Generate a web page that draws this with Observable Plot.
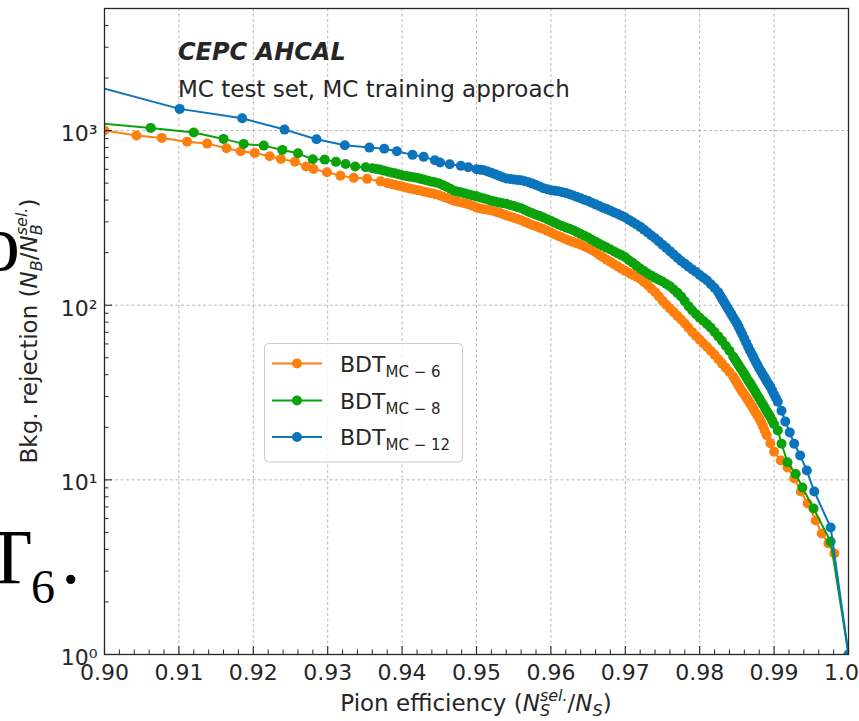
<!DOCTYPE html>
<html><head><meta charset="utf-8">
<script src="https://cdn.jsdelivr.net/npm/d3@7"></script>
<script src="https://cdn.jsdelivr.net/npm/@observablehq/plot@0.6"></script>
<style>
html,body{margin:0;padding:0;background:#fff;overflow:hidden;}
#chart{position:relative;width:859px;height:721px;}
</style></head><body><div id="chart"></div>
<script>
// ---- data (pion efficiency, background rejection) ----
const effMC6 = [0.9000,0.9043,0.9077,0.9111,0.9138,0.9164,0.9183,0.9202,0.9222,0.9237,0.9256,0.9271,0.9281,0.9299,0.9317,0.9335,0.9353,0.9371,
0.938,0.939,0.940,0.941,0.942,0.943,0.944,0.945,0.946,0.947,0.948,0.949,0.950,0.951,0.952,0.953,0.954,0.955,0.956,0.957,0.958,0.959,0.960,0.961,0.962,0.963,0.964,0.965,0.966,0.967,0.968,0.969,0.970,0.971,0.972,0.973,0.974,0.975,
0.9755,0.976,0.9765,0.977,0.9775,0.978,0.9785,0.979,0.9795,0.980,0.9805,0.981,0.9815,0.982,0.9825,0.983,0.9835,0.984,0.9845,0.985,0.9855,0.986,0.9865,0.987,0.9875,0.988,0.9885,0.989,0.9895,
0.9900,0.9909,0.9918,0.9927,0.9936,0.9945,0.9956,0.9964,0.9973,0.9981];
const rejMC6 = [1000,936,908,864,842,792,761,745,712,688,664,622,603,577,552,536,529,512,
501,489,478,466,457,447,437,426,411,396,387,377,363,354,349,339,327,317,307,294,283,273,261,249,239,230,222,213,201,188,177,166.5,157,149,141.9,130.4,118.9,106.2,
100.7,95.9,91.3,86.9,82.8,78.6,74.3,70.1,66.6,63.5,60.4,57.6,54.7,52.0,49.1,46.3,43.9,41.5,39.1,36.0,33.1,30.8,28.6,26.5,24.3,22.5,20.3,18.0,16.2,
14.5,12.9,11.76,10.17,8.58,7.32,5.85,4.93,4.32,3.79];
// additional densely packed working points read between the ones above
const effMC6Dense = [0.9385,0.9395,0.9405,0.9415,0.9425,0.9435,0.9445,0.9455,0.9465,0.9475,0.9485,0.9495,0.9505,0.9515,0.9525,0.9535,0.9545,0.9555,0.9565,0.9575,0.9585,0.9595,0.9605,0.9615,0.9625,0.9635,0.9645,0.9655,0.9665,0.9675,0.9685,0.9695,0.9705,0.9715,0.9725,0.9735,0.9745,
0.98475,0.98525,0.98575,0.98625,0.98675,0.98725,0.98775,0.98825,0.98875];
const rejMC6Dense = [495,483,472,461,452,442,432,418,403,391,382,370,358,352,344,333,322,312,300,288,278,267,255,244,234,226,217,207,194,182,171.7,161.7,153,145.4,136,124.5,112.4,
37.5,34.5,31.9,29.7,27.5,25.4,23.4,21.4,19.1];

const effMC8 = [0.8981,0.9062,0.9120,0.9160,0.9187,0.9214,0.9239,0.9260,0.9280,0.9296,0.9311,0.9324,0.9337,0.9351,
0.936,0.937,0.938,0.939,0.940,0.941,0.942,0.943,0.944,0.945,0.946,0.947,0.948,0.949,0.950,0.951,0.952,0.953,0.954,0.955,0.956,0.957,0.958,0.959,0.960,0.961,0.962,0.963,0.964,0.965,0.966,0.967,0.968,0.969,0.970,0.971,0.972,0.973,0.974,0.975,0.976,0.977,
0.9775,0.978,0.9785,0.979,0.9795,0.980,0.9805,0.981,0.9815,0.982,0.9825,0.983,0.9835,0.984,0.9845,0.985,0.9855,0.986,0.9865,0.987,0.9875,0.988,0.9885,0.989,0.9895,0.990,
0.9905,0.9910,0.9918,0.9929,0.9938,0.9953,0.9976,1.0];
const rejMC8 = [1110,1036,974,896,839,820,775,741,685,682,662,644,622,616,
609,598,583,569,555,545,536,523,510,498,475,453,442,431,420,409,397,388,381,370,359,343,330,318,304,290,279,269,256,244,231,219,208.5,198,188,175,162,152,143.4,136.6,128.4,117.7,
112.3,105.3,98.8,93.2,88.9,84.8,81.2,77.8,74.3,70.2,66.3,62.5,58.6,54.8,50.8,47.1,43.6,40.4,37.2,34.5,31.8,29.3,27.0,24.8,22.9,20.8,
19.2,16.1,12.6,10.8,9.04,6.85,4.43,1.0];
const effMC8Dense = [0.9365,0.9375,0.9385,0.9395,0.9405,0.9415,0.9425,0.9435,0.9445,0.9455,0.9465,0.9475,0.9485,0.9495,0.9505,0.9515,0.9525,0.9535,0.9545,0.9555,0.9565,0.9575,0.9585,0.9595,0.9605,0.9615,0.9625,0.9635,0.9645,0.9655,0.9665,0.9675,0.9685,0.9695,0.9705,0.9715,0.9725,0.9735,0.9745,0.9755,0.9765,
0.98475,0.98525,0.98575,0.98625,0.98675,0.98725,0.98775,0.98825,0.98875,0.98925,0.98975];
const rejMC8Dense = [603,590,576,562,550,540,529,516,504,487,464,447,436,425,414,403,392,384,375,364,351,336,324,311,297,284,274,262,250,237,225,213.7,203,193,181,168,157,147.6,140,132.4,123,
48.9,45.3,42.0,38.8,35.8,33.1,30.5,28.1,25.9,23.8,21.8];

const effMC12 = [0.8981,0.9101,0.9185,0.9242,0.9285,0.9323,0.9356,0.9376,0.9393,0.9414,0.9429,0.9444,0.9451,0.9464,0.9479,0.9489,0.9500,
0.951,0.952,0.953,0.954,0.955,0.956,0.957,0.958,0.959,0.960,0.961,0.962,0.963,0.964,0.965,0.966,0.967,0.968,0.969,0.970,0.971,0.972,0.973,0.974,0.975,
0.9755,0.976,0.9765,0.977,0.9775,0.978,0.9785,0.979,0.9795,0.980,0.9805,0.981,0.9815,0.982,0.9825,0.983,0.9835,0.984,0.9845,0.985,0.9855,0.986,0.9865,0.987,0.9875,0.988,0.9885,0.989,0.9895,0.990,0.9905,
0.9910,0.9915,0.9921,0.9927,0.9935,0.9944,0.9954,0.9976,1.0];
const rejMC12 = [1830,1331,1176,1013,892,824,799,786,761,726,707,676,656,641,628,617,600,
592,574,552,531,525,520,506,488,468,455,450,439,425,410,395,378,362,348,333,318,299,281,261,242,222,
213,204,195,187,179,173,166,160,155,149,143.6,138.4,131.8,125.5,118.5,109.1,100.6,92.6,85.3,78.7,71.2,64.3,57.8,52.5,47.6,43.4,40.0,36.8,34.0,30.8,28.0,
24.9,21.6,18.7,16.1,13.8,11.3,8.58,5.34,1.0];
const effMC12Dense = [0.9505,0.9515,0.9525,0.9535,0.9545,0.9555,0.9565,0.9575,0.9585,0.9595,0.9605,0.9615,0.9625,0.9635,0.9645,0.9655,0.9665,0.9675,0.9685,0.9695,0.9705,0.9715,0.9725,0.9735,0.9745,
0.98275,0.98325,0.98375,0.98425,0.98475,0.98525,0.98575,0.98625,0.98675,0.98725,0.98775,0.98825,0.98875,0.98925,0.98975,0.99025];
const rejMC12Dense = [596,583,563,541,528,522,513,497,478,461,452,444,432,417,402,386,370,355,340,325,308,290,271,251,232,
113.7,104.8,96.5,88.9,81.9,74.9,67.7,61.0,55.1,50.0,45.5,41.7,38.4,35.4,32.4,29.4];

const seriesSub = ["MC − 6", "MC − 8", "MC − 12"];
const seriesColors = ["#ff7f0e", "#0ca20c", "#0b74bb"];

const xMajorTicks = [0.90,0.91,0.92,0.93,0.94,0.95,0.96,0.97,0.98,0.99,1.00];
const xTickLabels = ["0.90","0.91","0.92","0.93","0.94","0.95","0.96","0.97","0.98","0.99","1.00"];
const xMinorTicks = [0.902,0.904,0.906,0.908,0.912,0.914,0.916,0.918,0.922,0.924,0.926,0.928,0.932,0.934,0.936,0.938,
0.942,0.944,0.946,0.948,0.952,0.954,0.956,0.958,0.962,0.964,0.966,0.968,0.972,0.974,0.976,0.978,0.982,0.984,0.986,0.988,0.992,0.994,0.996,0.998];
const xGrid = [0.91,0.92,0.93,0.94,0.95,0.96,0.97,0.98,0.99];
const yMajorTicks = [1,10,100,1000];
const yTickLabels = ["10⁰","10¹","10²","10³"];
const yMinorTicks = [2,3,4,5,6,7,8,9,20,30,40,50,60,70,80,90,200,300,400,500,600,700,800,900,2000,3000,4000];
const yGrid = [10,100,1000];

function rows(xs, ys, xs2, ys2) {
  const r = xs.map((x, i) => ({eff: x, rej: ys[i]})).concat(xs2.map((x, i) => ({eff: x, rej: ys2[i]})));
  return r.sort((a, b) => a.eff - b.eff);
}
const series = [
  rows(effMC6, rejMC6, effMC6Dense, rejMC6Dense),
  rows(effMC8, rejMC8, effMC8Dense, rejMC8Dense),
  rows(effMC12, rejMC12, effMC12Dense, rejMC12Dense)
];

const ink = "#262626";
const gridStyle = {stroke: "#b0b0b0", strokeOpacity: 1, strokeWidth: 0.9, strokeDasharray: "3,2.5"};

const marks = [
  Plot.gridX(xGrid, gridStyle),
  Plot.gridY(yGrid, gridStyle)
];
series.forEach((d, i) => {
  marks.push(Plot.line(d, {x: "eff", y: "rej", stroke: seriesColors[i], strokeWidth: 2, clip: true}));
  marks.push(Plot.dot(d, {x: "eff", y: "rej", r: 5, fill: seriesColors[i], clip: true}));
});
marks.push(
  Plot.frame({stroke: ink, strokeWidth: 1.3}),
  Plot.axisX(xMajorTicks, {tickSize: -8, tickFormat: () => "", stroke: ink, strokeWidth: 1.1}),
  Plot.axisX(xMinorTicks, {tickSize: -4.5, tickFormat: () => "", stroke: ink, strokeWidth: 1}),
  Plot.axisX(xMajorTicks, {tickSize: 0, tickPadding: 10, fontSize: 22, fill: ink,
    tickFormat: d => xTickLabels[xMajorTicks.indexOf(d)]}),
  Plot.axisY(yMajorTicks, {tickSize: -8, tickFormat: () => "", stroke: ink, strokeWidth: 1.1}),
  Plot.axisY(yMinorTicks, {tickSize: -4.5, tickFormat: () => "", stroke: ink, strokeWidth: 1}),
  Plot.axisY(yMajorTicks, {tickSize: 0, tickPadding: 7, fontSize: 22, fill: ink, dy: 3.5,
    tickFormat: d => yTickLabels[yMajorTicks.indexOf(d)]})
);

const plot = Plot.plot({
  width: 859, height: 721,
  marginLeft: 104, marginRight: 11, marginTop: 8, marginBottom: 67,
  x: {domain: [0.9, 1.0], label: null},
  y: {type: "log", domain: [1, 5000], label: null},
  style: {background: "white", fontFamily: "DejaVu Sans", fontSize: "22px", color: ink, overflow: "hidden"},
  marks
});
document.getElementById("chart").appendChild(plot);

// ---- annotations ----
const svg = d3.select(plot);
function mk(g, q, size, family, fill) {
  return g.append("text")
    .attr("y", -(q.shift || 0))
    .attr("text-anchor", "start")
    .attr("font-size", q.size || size)
    .attr("font-family", family)
    .attr("font-style", q.italic ? "italic" : "normal")
    .attr("font-weight", q.bold ? "bold" : "normal")
    .attr("fill", fill)
    .style("white-space", "pre")
    .text(q.t);
}
function rich(parts, {x, y, anchor = "start", rotate = 0, size = 23, family = "DejaVu Sans", fill = ink}) {
  const g = svg.append("g").attr("text-anchor", "start")
    .attr("transform", `translate(${x},${y}) rotate(${rotate})`);
  let cx = 0;
  const placed = [];
  for (const p of parts) {
    if (p.stack) {
      let w = 0;
      for (const q of p.stack) {
        const t = mk(g, q, size, family, fill);
        w = Math.max(w, t.node().getComputedTextLength());
        placed.push([t, cx]);
      }
      cx += w;
    } else {
      const t = mk(g, p, size, family, fill);
      cx += (p.pre || 0);
      placed.push([t, cx]);
      cx += t.node().getComputedTextLength();
    }
  }
  const off = anchor === "middle" ? -cx / 2 : anchor === "end" ? -cx : 0;
  for (const [t, px] of placed) t.attr("x", px + off);
  return g;
}

// axis titles
rich([{t: "Pion efficiency ("}, {t: "N", italic: true},
      {stack: [{t: "sel.", italic: true, size: 16, shift: 10}, {t: "S", italic: true, size: 16, shift: -5}]},
      {t: "/"}, {t: "N", italic: true}, {t: "S", italic: true, size: 16, shift: -5}, {t: ")"}],
     {x: 476, y: 711, anchor: "middle", size: 23});
rich([{t: "Bkg. rejection ("}, {t: "N", italic: true}, {t: "B", italic: true, size: 16, shift: -5},
      {t: "/"}, {t: "N", italic: true},
      {stack: [{t: "sel.", italic: true, size: 16, shift: 10}, {t: "B", italic: true, size: 16, shift: -5}]},
      {t: ")"}],
     {x: 37, y: 331, anchor: "middle", rotate: -90, size: 23});

// in-plot labels
rich([{t: "CEPC AHCAL", bold: true, italic: true}], {x: 178, y: 60, size: 24});
rich([{t: "MC test set, MC training approach"}], {x: 178, y: 97, size: 23});

// legend
svg.append("rect").attr("x", 264.5).attr("y", 343.5).attr("width", 198).attr("height", 118.5)
  .attr("rx", 4).attr("fill", "white").attr("fill-opacity", 0.8).attr("stroke", "#cccccc").attr("stroke-width", 1);
const legendRows = [363.5, 400.5, 437];
seriesSub.forEach((s, i) => {
  const yy = legendRows[i];
  svg.append("line").attr("x1", 272).attr("x2", 322).attr("y1", yy).attr("y2", yy)
    .attr("stroke", seriesColors[i]).attr("stroke-width", 2);
  svg.append("circle").attr("cx", 297).attr("cy", yy).attr("r", 5).attr("fill", seriesColors[i]);
  rich([{t: "BDT"}, {t: s, size: 15, shift: -5}], {x: 340, y: yy + 8, size: 22});
});

// fragments of surrounding page text visible in the crop
const serif = "Liberation Serif";
rich([{t: "o"}], {x: -20, y: 270, size: 80, family: serif, fill: "#000"});
rich([{t: "T"}], {x: -16, y: 583, size: 78, family: serif, fill: "#000"});
rich([{t: "6"}], {x: 31, y: 603, size: 48, family: serif, fill: "#000"});
rich([{t: "."}], {x: 61, y: 583, size: 78, family: serif, fill: "#000"});
</script></body></html>
